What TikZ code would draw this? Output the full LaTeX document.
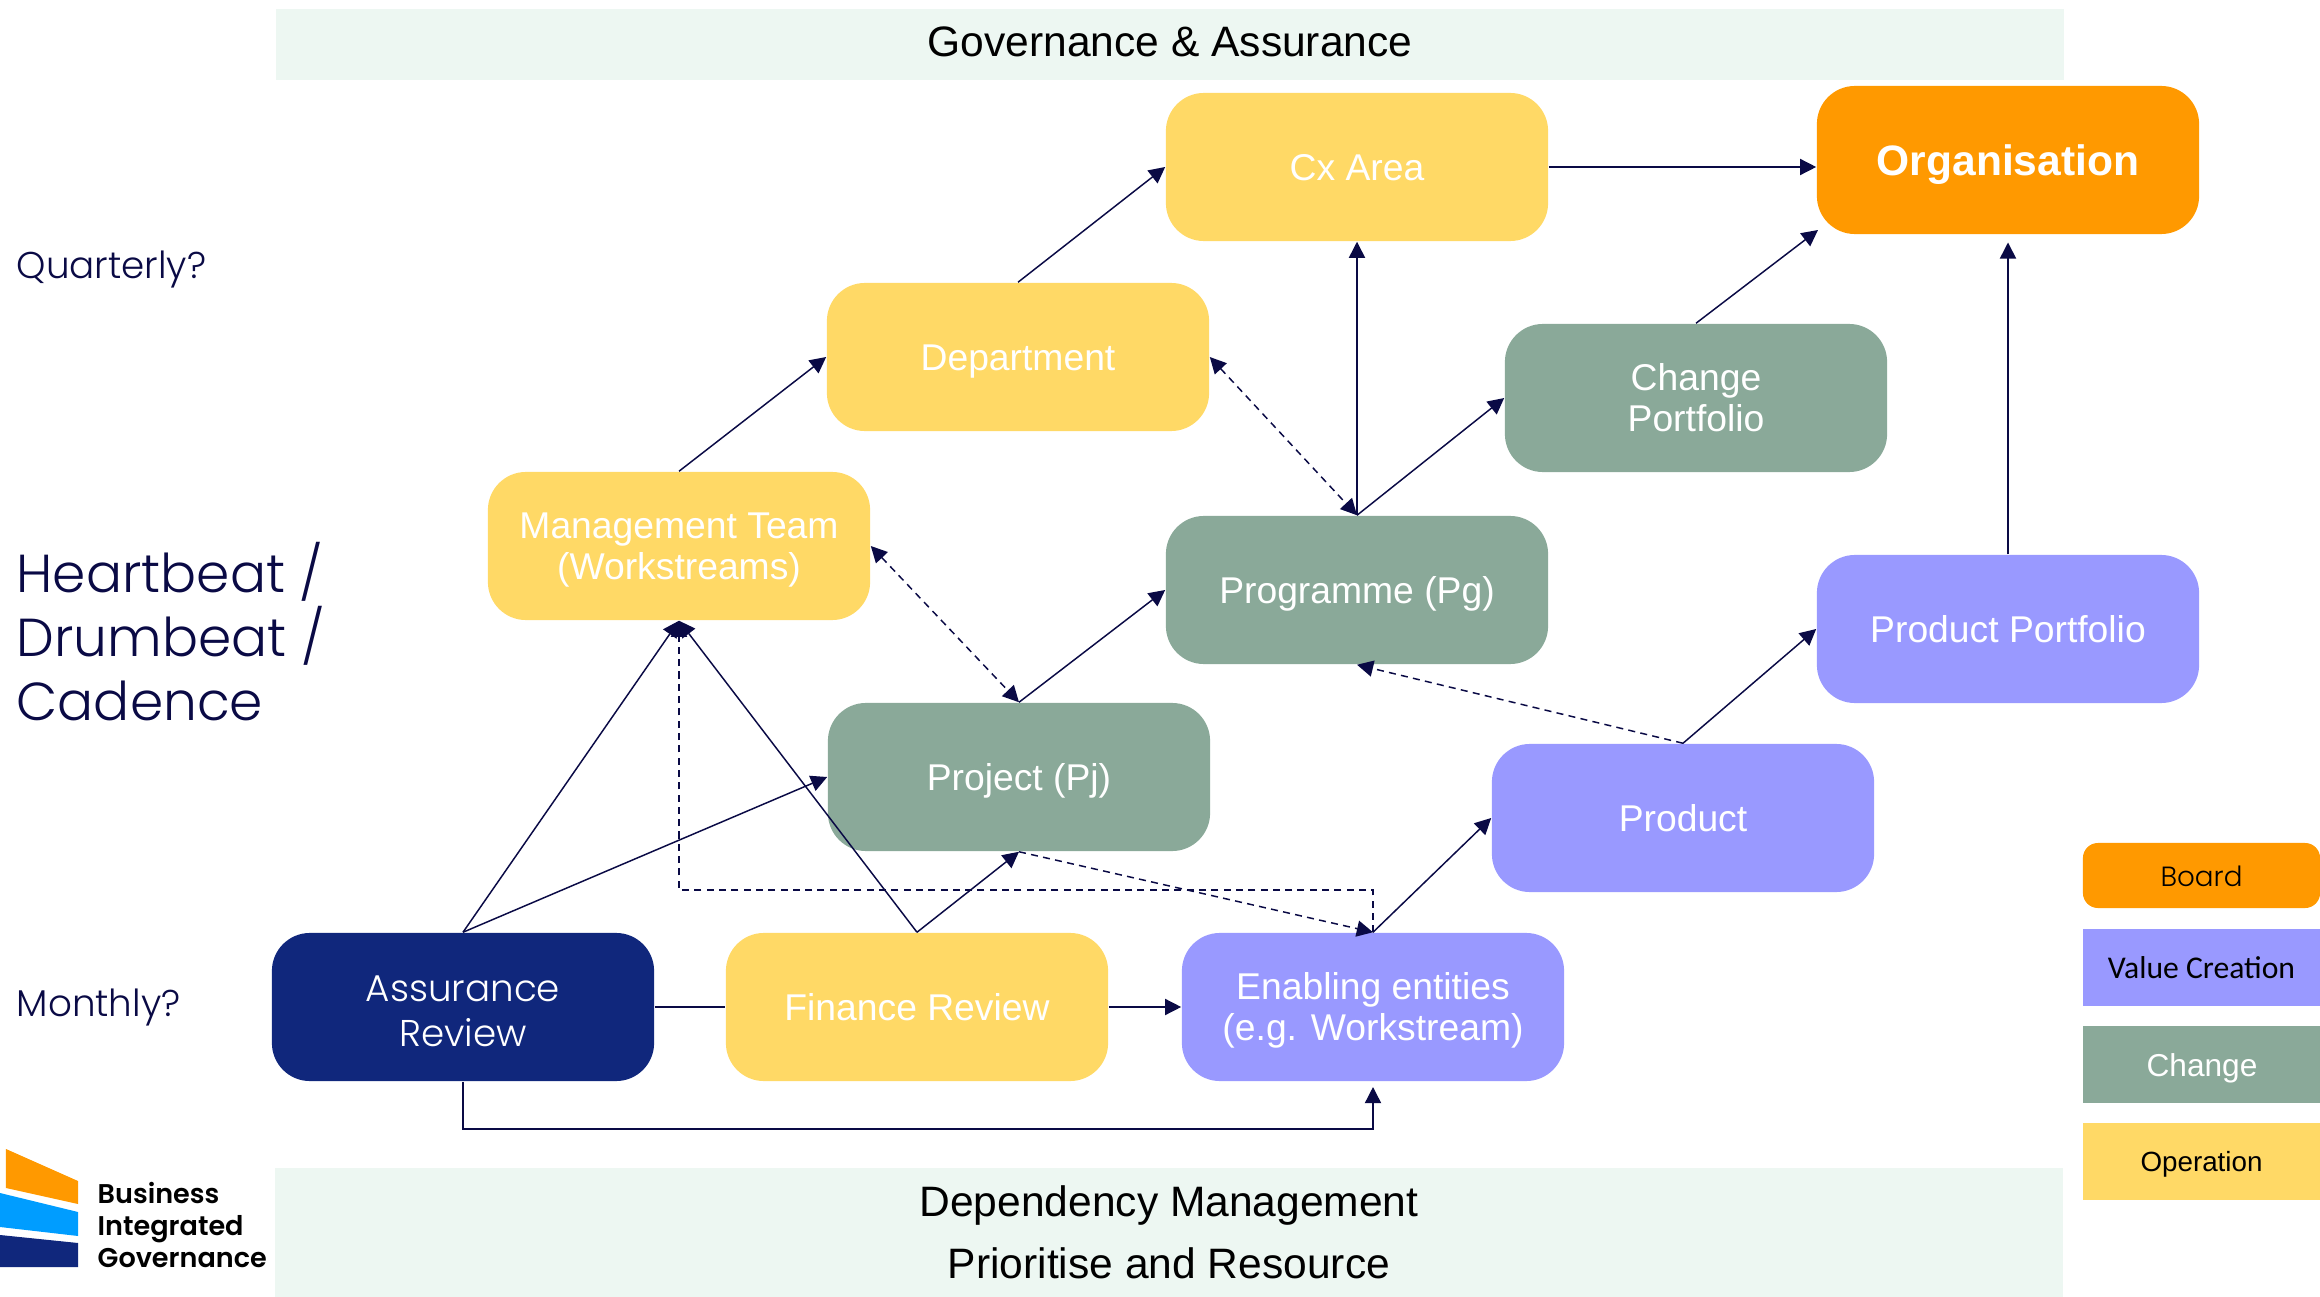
\documentclass[tikz,border=0pt]{standalone}
\usepackage{fontspec}
\setmainfont{Liberation Sans}
\newfontfamily\popfont{Poppins Light}
\newfontfamily\popbold{Poppins SemiBold}
\newfontfamily\calfont{Carlito}
\usetikzlibrary{arrows.meta}
\definecolor{opyellow}{HTML}{FFD966}
\definecolor{boardorange}{HTML}{FF9900}
\definecolor{valuepurple}{HTML}{9999FF}
\definecolor{changegreen}{HTML}{8AA999}
\definecolor{assurnavy}{HTML}{10277C}
\definecolor{logoblue}{HTML}{009DFF}
\definecolor{bandpale}{HTML}{EDF7F2}
\definecolor{inkblue}{HTML}{0A0A45}
\newcommand{\boxstrut}{\rule[-2pt]{0pt}{11.6pt}}
\newcommand{\legstrut}{\rule[-1.5pt]{0pt}{9pt}}
\tikzset{
  unitbox/.style={rounded corners=0.38cm, minimum width=3.82cm, minimum height=1.48cm, inner sep=0pt, align=center, text=white, font=\fontsize{10.6}{11.7}\selectfont, execute at begin node=\boxstrut, execute at end node=\boxstrut},
  twoline/.style={text height=#1, text depth=0pt},
  twoline/.default=19.3pt,
  legendbox/.style={minimum width=2.37cm, minimum height=0.77cm, inner sep=0pt, execute at begin node=\legstrut},
  dropstrut/.style={execute at begin node=\rule[-2pt]{0pt}{#1}},
  bandbox/.style={fill=bandpale, minimum width=17.87cm, inner sep=0pt, align=center, font=\fontsize{12.1}{17.6}\selectfont},
  sidetext/.style={anchor=west, inner sep=0pt, align=left, text=inkblue},
  link/.style={line width=0.42pt, draw=inkblue, -{Triangle[length=4.6pt,width=4.6pt]}},
  dashlink/.style={link, dash pattern=on 2pt off 1.5pt}
}
\begin{document}
\begin{tikzpicture}[x=0.01cm,y=-0.01cm]
    \useasboundingbox (0,0) rectangle (2320,1297);
    \node[bandbox, minimum height=0.71cm, text height=8.7pt, text depth=1.7pt] (govern) at (1170,44.5) {Governance \& Assurance};
    \node[bandbox, minimum height=1.29cm] (depend) at (1169,1232.5) {Dependency Management\\Prioritise and Resource};

    \node[unitbox, fill=opyellow] (cxarea) at (1357,167) {Cx Area};
    \node[unitbox, dropstrut=13.3pt, fill=boardorange, font=\fontsize{12.1}{14}\selectfont\bfseries] (organ) at (2008,160) {Organisation};
    \node[unitbox, fill=opyellow] (depart) at (1018,357) {Department};
    \node[unitbox, twoline, fill=changegreen] (chport) at (1696,398) {Change\\Portfolio};
    \node[unitbox, twoline, fill=opyellow] (mgmt) at (679,546) {Management Team\\(Workstreams)};
    \node[unitbox, fill=changegreen] (progr) at (1357,590) {Programme (Pg)};
    \node[unitbox, fill=valuepurple] (prport) at (2008,629) {Product Portfolio};
    \node[unitbox, fill=changegreen] (proj) at (1019,777) {Project (Pj)};
    \node[unitbox, fill=valuepurple] (prod) at (1683,818) {Product};
    \node[unitbox, twoline=22.5pt, fill=assurnavy, font=\popfont\fontsize{10.6}{12.8}\selectfont] (assur) at (463,1007) {Assurance\\Review};
    \node[unitbox, fill=opyellow] (finan) at (917,1007) {Finance Review};
    \node[unitbox, twoline, fill=valuepurple] (enab) at (1373,1007) {Enabling entities\\(e.g. Workstream)};

    \node[sidetext, font=\popfont\fontsize{10.6}{12.5}\selectfont] (quart) at (16,269) {Quarterly?};
    \node[sidetext, font=\popfont\fontsize{15.2}{18.2}\selectfont] (heart) at (16,631.5) {Heartbeat /\\Drumbeat /\\Cadence};
    \node[sidetext, font=\popfont\fontsize{10.6}{12.5}\selectfont] (month) at (16,1007) {Monthly?};

    \node[legendbox, fill=boardorange, rounded corners=0.15cm, minimum height=0.65cm, font=\popfont\fontsize{7.9}{9}\selectfont] (board) at (2201.5,875.5) {Board};
    \node[legendbox, fill=valuepurple, font=\calfont\fontsize{9}{10}\selectfont] (value) at (2201.5,967.5) {Value Creation};
    \node[legendbox, dropstrut=10.7pt, fill=changegreen, text=white, font=\fontsize{9}{10}\selectfont] (change) at (2202,1064.5) {Change};
    \node[legendbox, fill=opyellow, font=\fontsize{7.9}{9}\selectfont] (oper) at (2201.5,1161.5) {Operation};

    \fill[boardorange] (6,1149) -- (78,1181) -- (78,1204) -- (6,1188) -- cycle;
    \fill[logoblue] (0,1193) -- (78,1212) -- (78,1236) -- (0,1227) -- cycle;
    \fill[assurnavy] (0,1235) -- (78,1243) -- (78,1267) -- (0,1267) -- cycle;
    \node[sidetext, text=black, font=\popbold\fontsize{7.7}{9.1}\selectfont] (logo) at (97,1225) {Business\\Integrated\\Governance};

    \coordinate (upper) at (0,890);
    \coordinate (lower) at (0,1129);
    \coordinate (orgtip) at (1818,230);

    \draw[link] (assur.north) -- (mgmt.south);
    \draw[link] (assur.north) -- (proj.west);
    \draw[link] (finan.north) -- (mgmt.south);
    \draw[link] (finan.north) -- (proj.south);
    \draw[link, -] (assur.east) -- (finan.west);
    \draw[link] (finan.east) -- (enab.west);
    \draw[link, shorten >=1.5pt] (assur.south) -- (assur.south |- lower) -- (enab.south |- lower) -- (enab.south);
    \draw[link] (enab.north) -- (prod.west);
    \draw[link] (prod.north) -- (prport.west);
    \draw[link, shorten >=2.2pt] (prport.north) -- (organ.south);
    \draw[link] (proj.north) -- (progr.west);
    \draw[link] (progr.north) -- (cxarea.south);
    \draw[link] (progr.north) -- (chport.west);
    \draw[link] (chport.north) -- (orgtip);
    \draw[link] (cxarea.east) -- (cxarea.east -| organ.west);
    \draw[link] (depart.north) -- (cxarea.west);
    \draw[link] (mgmt.north) -- (depart.west);
    \draw[dashlink] (enab.north) -- (enab.north |- upper) -- (mgmt.south |- upper) -- (mgmt.south);
    \draw[dashlink] (proj.south) -- (enab.north);
    \draw[dashlink] (prod.north) -- (progr.south);
    \draw[dashlink, {Triangle[length=4.6pt,width=4.6pt]}-{Triangle[length=4.6pt,width=4.6pt]}] (mgmt.east) -- (proj.north);
    \draw[dashlink, {Triangle[length=4.6pt,width=4.6pt]}-{Triangle[length=4.6pt,width=4.6pt]}] (depart.east) -- (progr.north);
  \end{tikzpicture}
\end{document}
